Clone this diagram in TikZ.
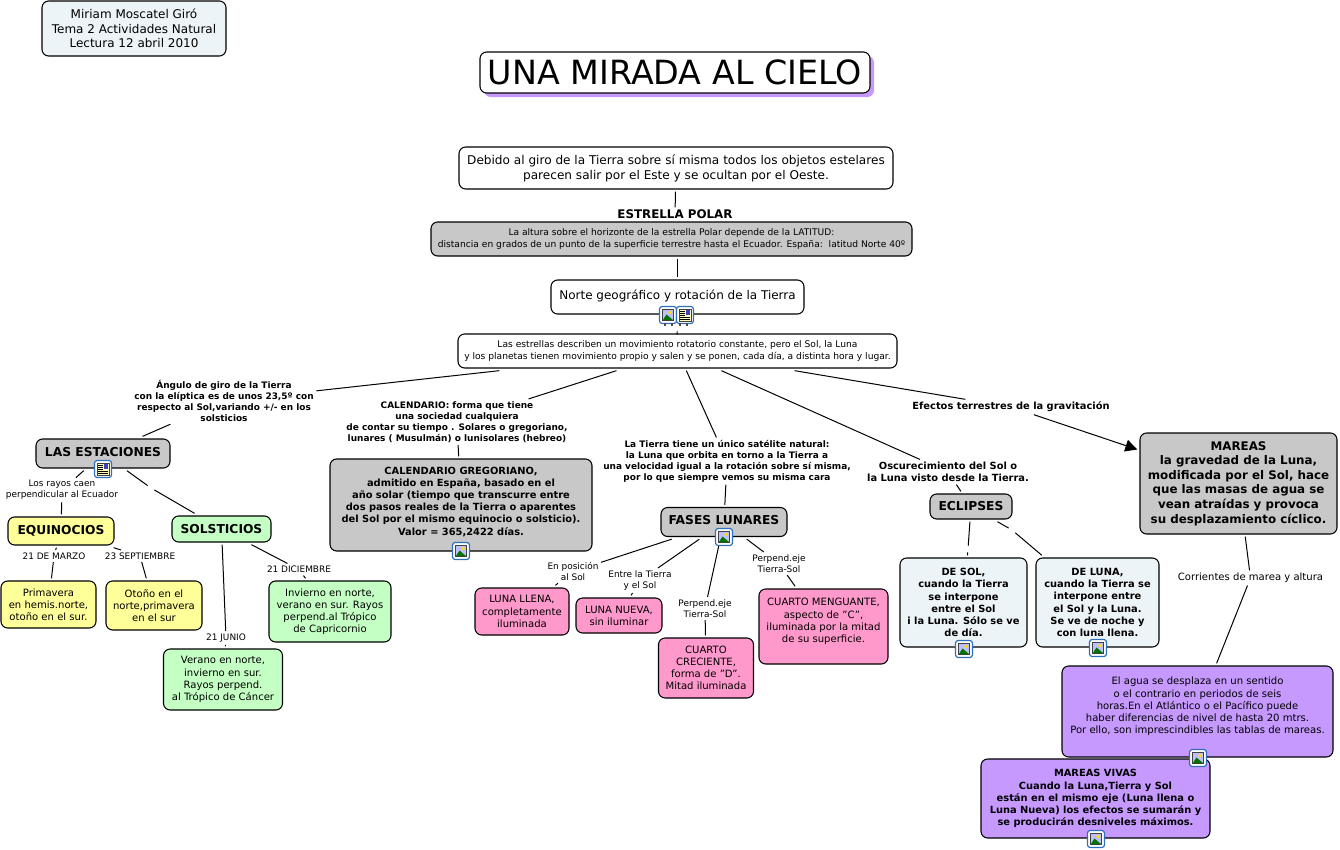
\documentclass[tikz,border=0pt]{standalone}
\usepackage{fontspec}
\setmainfont{DejaVu Sans}
\usetikzlibrary{arrows.meta,shadows}
\definecolor{boxgrey}{HTML}{C8C8C8}
\definecolor{boxpale}{HTML}{EDF4F7}
\definecolor{boxyellow}{HTML}{FFFF99}
\definecolor{boxgreen}{HTML}{C4FFC4}
\definecolor{boxpink}{HTML}{FF99CC}
\definecolor{boxpurple}{HTML}{C699FF}
\definecolor{iconblue}{HTML}{2F6FC0}
\tikzset{
  wh/.style 2 args={minimum width=#1*0.75pt,minimum height=#2*0.75pt},
  cbox/.style={draw=black,line width=0.8pt,rounded corners=5pt,inner sep=0pt,outer sep=2pt,align=center},
  lbl/.style={inner sep=0pt,outer sep=2pt,align=center,font=\fontsize{6.7}{8.2}\selectfont},
  blbl/.style={inner sep=0pt,outer sep=2pt,align=center,font=\fontsize{6.72}{8.2}\selectfont\bfseries},
  gapnode/.style={inner sep=0pt,outer sep=2pt,minimum size=1pt},
  link/.style={line width=0.75pt},
  fmed/.style={font=\fontsize{7.55}{9.1}\selectfont},
  fsmall/.style={font=\fontsize{6.85}{9.2}\selectfont},
  fbold/.style={font=\fontsize{7.4}{9.1}\selectfont\bfseries},
  fhead/.style={font=\fontsize{9.2}{11}\selectfont\bfseries},
  imgicon/.pic={
    \fill[white,draw=iconblue,line width=0.9pt,rounded corners=2pt] (-8.5,-8.5) rectangle (8.5,8.5);
    \fill[black!75] (-6,-6) rectangle (6,6);
    \fill[blue!25!white] (-5.2,-5.2) rectangle (5.2,5.2);
    \fill[yellow!80!orange] (2,-2.5) circle (1.9);
    \fill[green!45!black] (-5.2,5.2) -- (-1.5,-0.5) -- (5.2,5.2) -- cycle;
  },
  docicon/.pic={
    \fill[white,draw=iconblue,line width=0.9pt,rounded corners=2pt] (-8.5,-8.5) rectangle (8.5,8.5);
    \fill[yellow!25,draw=black!75,line width=0.5pt] (-6,-6) rectangle (6,6);
    \fill[blue!50!gray] (0.5,-5) rectangle (5,-0.5);
    \foreach \y in {-3.5,-1.5,0.5,2.5,4.2} \draw[black,line width=0.4pt] (-4.8,\y) -- (-0.5,\y);
    \draw[black,line width=0.4pt] (0,2.5) -- (4.8,2.5);
    \draw[black,line width=0.4pt] (0,4.2) -- (4.8,4.2);
  }
}
\begin{document}
\begin{tikzpicture}[x=0.75pt,y=-0.75pt]
  \useasboundingbox (0,0) rectangle (1340,850);

  \node[cbox,wh={184}{55},fill=boxpale,font=\fontsize{9}{11}\selectfont] (autora) at (134,28.5) {Miriam Moscatel Giró\\Tema 2 Actividades Natural\\Lectura 12 abril 2010};
  \node[cbox,wh={390}{41},fill=white,font=\fontsize{25}{29}\selectfont,drop shadow={shadow xshift=3pt,shadow yshift=-3pt,fill=boxpurple,opacity=1}] (titulo) at (675,72.5) {UNA MIRADA AL CIELO};

  \node[cbox,wh={434}{42},fill=white,font=\fontsize{9.07}{11.2}\selectfont] (giro) at (676,168) {Debido al giro de la Tierra sobre sí misma todos los objetos estelares\\parecen salir por el Este y se ocultan por el Oeste.};
  \node[blbl,font=\fontsize{8.9}{10}\selectfont\bfseries] (polar) at (675,214.5) {ESTRELLA POLAR};
  \node[cbox,wh={481}{34},fill=boxgrey,fsmall] (altura) at (671.5,239) {La altura sobre el horizonte de la estrella Polar depende de la LATITUD:\\distancia en grados de un punto de la superficie terrestre hasta el Ecuador. España:\ \ latitud Norte 40º};
  \node[cbox,wh={253}{34},fill=white,font=\fontsize{9}{11}\selectfont,text depth=3.5pt] (norte) at (677.5,297) {Norte geográfico y rotación de la Tierra};
  \node[gapnode,minimum height=15pt] (oculto) at (677,322) {};
  \node[cbox,wh={439}{34},fill=white,fsmall] (estrellas) at (677.5,351) {Las estrellas describen un movimiento rotatorio constante, pero el Sol, la Luna\\y los planetas tienen movimiento propio y salen y se ponen, cada día, a distinta hora y lugar.};

  \node[blbl] (angulo) at (224,401) {Ángulo de giro de la Tierra\\con la elíptica es de unos 23,5º con\\respecto al Sol,variando +/- en los\\solsticios};
  \node[blbl] (calendario) at (457,422) {CALENDARIO: forma que tiene\\una sociedad cualquiera\\de contar su tiempo . Solares o gregoriano,\\lunares ( Musulmán) o lunisolares (hebreo)};
  \node[blbl] (satelite) at (727,461) {La Tierra tiene un único satélite natural:\\la Luna que orbita en torno a la Tierra a\\una velocidad igual a la rotación sobre sí misma,\\por lo que siempre vemos su misma cara};
  \node[blbl,fbold] (oscuro) at (948,472) {Oscurecimiento del Sol o\\la Luna visto desde la Tierra.};
  \node[blbl,fbold] (efectos) at (1011,407) {Efectos terrestres de la gravitación};

  \node[cbox,wh={134}{29},fill=boxgrey,fhead,text depth=3pt] (estaciones) at (103,453.5) {LAS ESTACIONES};
  \node[lbl] (rayos) at (62,490) {Los rayos caen\\perpendicular al Ecuador};
  \node[gapnode] (g1) at (151,488) {};
  \node[cbox,wh={106}{28},fill=boxyellow,fhead] (equinocios) at (61,531) {EQUINOCIOS};
  \node[cbox,wh={99}{26},fill=boxgreen,fhead] (solsticios) at (221.5,529) {SOLSTICIOS};
  \node[lbl] (marzo) at (54,556) {21 DE MARZO};
  \node[lbl] (septiembre) at (140,556) {23 SEPTIEMBRE};
  \node[lbl] (diciembre) at (299,569.5) {21 DICIEMBRE};
  \node[lbl] (junio) at (226,638) {21 JUNIO};
  \node[cbox,wh={95}{47},fill=boxyellow,fmed] (primavera) at (48.5,604.5) {Primavera\\en hemis.norte,\\otoño en el sur.};
  \node[cbox,wh={96}{49},fill=boxyellow,fmed] (otono) at (154,605.5) {Otoño en el\\norte,primavera\\en el sur};
  \node[cbox,wh={122}{61},fill=boxgreen,fmed] (invierno) at (330,611.5) {Invierno en norte,\\verano en sur. Rayos\\perpend.al Trópico\\de Capricornio};
  \node[cbox,wh={119}{61},fill=boxgreen,fmed] (verano) at (223,679.5) {Verano en norte,\\invierno en sur.\\Rayos perpend.\\al Trópico de Cáncer};

  \node[cbox,wh={262}{92},fill=boxgrey,fbold,text depth=6pt] (gregoriano) at (461,505) {CALENDARIO GREGORIANO,\\admitido en España, basado en el\\año solar (tiempo que transcurre entre\\dos pasos reales de la Tierra o aparentes\\del Sol por el mismo equinocio o solsticio).\\Valor = 365,2422 días.};

  \node[cbox,wh={126}{29},fill=boxgrey,fhead,text depth=3pt] (fases) at (724,522) {FASES LUNARES};
  \node[lbl] (posicion) at (573,571.5) {En posición\\al Sol};
  \node[lbl] (entre) at (640,580.5) {Entre la Tierra\\y el Sol};
  \node[lbl] (perpuno) at (705,608.5) {Perpend.eje\\Tierra-Sol};
  \node[lbl] (perpdos) at (779,563.5) {Perpend.eje\\Tierra-Sol};
  \node[cbox,wh={94}{47},fill=boxpink,fmed] (llena) at (522,611.5) {LUNA LLENA,\\completamente\\iluminada};
  \node[cbox,wh={86}{35},fill=boxpink,fmed] (nueva) at (619,615.5) {LUNA NUEVA,\\sin iluminar};
  \node[cbox,wh={95}{60},fill=boxpink,fmed] (creciente) at (706,668) {CUARTO\\CRECIENTE,\\forma de "D".\\Mitad iluminada};
  \node[cbox,wh={129}{75},fill=boxpink,fmed] (menguante) at (823.5,626.5) {CUARTO MENGUANTE,\\aspecto de "C",\\iluminada por la mitad\\de su superficie.\\~};

  \node[cbox,wh={82}{25},fill=boxgrey,fhead] (eclipses) at (971,506.5) {ECLIPSES};
  \node[gapnode] (g2) at (968,549) {};
  \node[gapnode] (g3) at (1012,530) {};
  \node[cbox,wh={127}{89},fill=boxpale,fbold] (desol) at (963.5,602.5) {DE SOL,\\cuando la Tierra\\se interpone\\entre el Sol\\i la Luna. Sólo se ve\\de día.};
  \node[cbox,wh={123}{89},fill=boxpale,fbold] (deluna) at (1097.5,602.5) {DE LUNA,\\cuando la Tierra se\\interpone entre\\el Sol y la Luna.\\Se ve de noche y\\con luna llena.};

  \node[cbox,wh={197}{101},fill=boxgrey,font=\fontsize{8.9}{10.9}\selectfont\bfseries] (mareas) at (1238.5,483.5) {MAREAS\\la gravedad de la Luna,\\modificada por el Sol, hace\\que las masas de agua se\\vean atraídas y provoca\\su desplazamiento cíclico.};
  \node[lbl,font=\fontsize{7.55}{9}\selectfont] (corrientes) at (1250.5,578) {Corrientes de marea y altura};
  \node[cbox,wh={271}{91},fill=boxpurple,fmed] (agua) at (1197.5,711.5) {El agua se desplaza en un sentido\\o el contrario en periodos de seis\\horas.En el Atlántico o el Pacífico puede\\haber diferencias de nivel de hasta 20 mtrs.\\Por ello, son imprescindibles las tablas de mareas.\\~};
  \node[cbox,wh={229}{79},fill=boxpurple,fbold] (vivas) at (1095.5,798.5) {MAREAS VIVAS\\Cuando la Luna,Tierra y Sol\\están en el mismo eje (Luna llena o\\Luna Nueva) los efectos se sumarán y\\se producirán desniveles máximos.};

  \draw[link] (giro) -- (polar);
  \draw[link] (norte |- altura.south) -- (norte);
  \draw[link] (oculto) -- (estrellas);
  \draw[link] (estrellas) -- (angulo);
  \draw[link] (estrellas) -- (calendario);
  \draw[link] (estrellas) -- (satelite);
  \draw[link] (estrellas) -- (oscuro);
  \draw[link] (estrellas) -- (efectos);
  \draw[link] (angulo) -- (estaciones);
  \draw[link] (calendario) -- (gregoriano);
  \draw[link] (satelite) -- (fases);
  \draw[link] (oscuro) -- (eclipses);
  \draw[link,-{Triangle[length=9pt,width=9pt]}] (efectos) -- (mareas);

  \draw[link] (estaciones) -- (rayos);
  \draw[link] (rayos) -- (equinocios);
  \draw[link] (estaciones) -- (g1);
  \draw[link] (g1) -- (solsticios);
  \draw[link] (equinocios) -- (marzo);
  \draw[link] (marzo) -- (primavera);
  \draw[link] (equinocios) -- (septiembre);
  \draw[link] (septiembre) -- (otono);
  \draw[link] (solsticios) -- (diciembre);
  \draw[link] (diciembre) -- (invierno);
  \draw[link] (solsticios) -- (junio);
  \draw[link] (junio) -- (verano);

  \draw[link] (fases) -- (posicion);
  \draw[link] (posicion) -- (llena);
  \draw[link] (fases) -- (entre);
  \draw[link] (entre) -- (nueva);
  \draw[link] (fases) -- (perpuno);
  \draw[link] (perpuno) -- (creciente);
  \draw[link] (fases) -- (perpdos);
  \draw[link] (perpdos) -- (menguante);

  \draw[link] (eclipses) -- (g2);
  \draw[link] (g2) -- (desol);
  \draw[link] (eclipses) -- (g3);
  \draw[link] (g3) -- (deluna);

  \draw[link] (mareas) -- (corrientes);
  \draw[link] (corrientes) -- (agua);

  \pic at (668,315) {imgicon};
  \pic at (685,315) {docicon};
  \foreach \x in {665,672,680,687} \draw[line width=1.2pt,black!70] (\x,323) -- (\x,326);
  \pic at (103,469) {docicon};
  \pic at (461,551) {imgicon};
  \pic at (724,537) {imgicon};
  \pic at (964,649) {imgicon};
  \pic at (1098,648) {imgicon};
  \pic at (1198,758) {imgicon};
  \pic at (1096,839) {imgicon};
\end{tikzpicture}
\end{document}
